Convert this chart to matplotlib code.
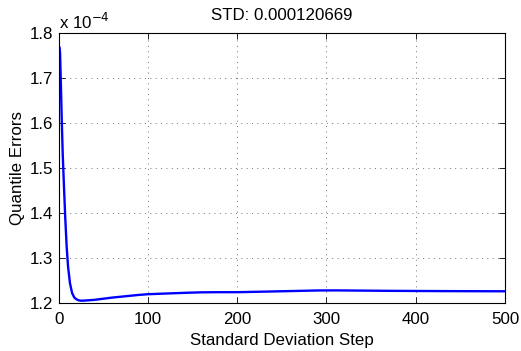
import matplotlib
matplotlib.use('Agg')
import matplotlib.pyplot as plt

plt.rcParams['font.family'] = ['Liberation Sans', 'DejaVu Sans']

# quantile error (in units of 1e-4) against standard deviation step
steps = [1, 1.5, 2.5, 3.4, 4.5, 5.9, 7.3, 8.9, 10.5, 12.6, 15, 17.5, 20, 23, 26,
         32, 40, 50, 60, 75, 90, 100, 120, 140, 160, 180, 200, 230, 260,
         290, 310, 340, 370, 400, 430, 460, 500]
err_e4 = [1.767, 1.755, 1.68, 1.607, 1.53, 1.458, 1.39, 1.325, 1.28, 1.244,
          1.222, 1.212, 1.208, 1.2055, 1.205, 1.2058, 1.207, 1.2095, 1.212,
          1.215, 1.218, 1.2195, 1.221, 1.2225, 1.2237, 1.224, 1.224, 1.2252,
          1.2265, 1.2278, 1.228, 1.2275, 1.227, 1.2267, 1.2264, 1.2262, 1.226]
std_val = '0.000120669'

fs = 12.2
fig = plt.figure(figsize=(5.21, 3.51), dpi=100)
ax = fig.add_axes([0.1127, 0.1368, 0.8566, 0.7692])

ax.plot(steps, err_e4, color=(0, 0, 1), lw=1.7)

ax.set_xlim(0, 500)
ax.set_ylim(1.2, 1.8)
ax.set_xticks([0, 100, 200, 300, 400, 500])
ax.set_yticks([1.2, 1.3, 1.4, 1.5, 1.6, 1.7, 1.8])
ax.set_yticklabels(['1.2', '1.3', '1.4', '1.5', '1.6', '1.7', '1.8'])
ax.tick_params(direction='in', top=True, right=True, labelsize=fs,
               length=4, width=0.6)
ax.tick_params(axis='x', pad=6.5)
ax.tick_params(axis='y', pad=4)
ax.grid(True, linestyle=(0, (1, 4.5)), color='0.45', linewidth=0.7)
for s in ax.spines.values():
    s.set_linewidth(0.8)

ax.set_xlabel('Standard Deviation Step', fontsize=fs, labelpad=4.5)
ax.set_ylabel('Quantile Errors', fontsize=fs, labelpad=3)
ax.set_title('STD: ' + std_val, fontsize=fs, pad=9)
ax.text(0.0, 1.005, r'x 10$^{-4}$', transform=ax.transAxes, fontsize=fs,
        ha='left', va='bottom')

fig.savefig('out.png', dpi=100)
